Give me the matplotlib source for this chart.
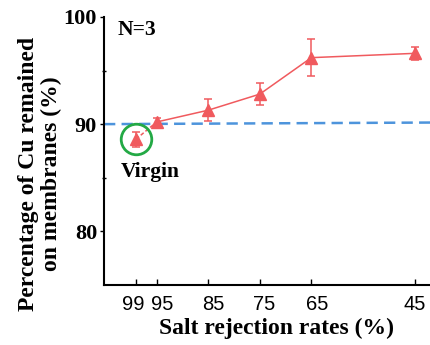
import matplotlib
matplotlib.use("Agg")
from matplotlib import pyplot as plt

# salt rejection rate of the membrane (%) and Cu kept on it (%)
rates = [99, 95, 85, 75, 65, 45]
cu_remained = [88.6, 90.2, 91.3, 92.8, 96.2, 96.6]
cu_err = [0.7, 0.4, 1.0, 1.05, 1.75, 0.6]
xticks = [99, 95, 85, 75, 65, 45]
yticks = [80, 90, 100]
baseline_x = [105.2, 41.0]
baseline_y = [90.0, 90.15]

# the x labels in the original sit a bit off their ticks (points)
label_shift = [-2, 4, 4, 3, 4.5, 0]

red = "#f05a5e"
blue = "#4d94dc"
green = "#23a945"
serif = "Liberation Serif"

fig = plt.figure(figsize=(4.3, 3.45), dpi=100)
ax = fig.add_axes([0.242, 0.174, 0.77, 0.777])

ax.plot(baseline_x, baseline_y, color=blue, lw=1.8, dashes=(4.5, 2.5), zorder=1)

# virgin -> first point dashed, rest solid
ax.plot(rates[:2], cu_remained[:2], color=red, lw=1.1, dashes=(2.5, 1.5), zorder=2)
ax.plot(rates[1:], cu_remained[1:], color=red, lw=1.1, zorder=2)
ax.errorbar(rates, cu_remained, yerr=cu_err, fmt="^", color=red, ms=9,
            elinewidth=1.1, capsize=3.2, capthick=1.1, zorder=3)

ax.plot([rates[0]], [cu_remained[0]], marker="o", ms=22, mfc="none",
        mec=green, mew=2, zorder=4)
ax.text(101.9, 85.5, "Virgin", family=serif, weight="bold", fontsize=15.5,
        va="center", ha="left")
ax.text(0.04, 0.95, "N=3", transform=ax.transAxes, family=serif,
        weight="bold", fontsize=15.5, va="center", ha="left")

ax.set_xlim(105.2, 41.0)
ax.set_ylim(75, 100)
ax.set_xticks(xticks)
ax.set_xticklabels([])
for v, dx in zip(xticks, label_shift):
    ax.annotate(str(v), xy=(v, 0), xycoords=("data", "axes fraction"),
                xytext=(dx, -7), textcoords="offset points", ha="center", va="top",
                family="Liberation Sans", fontsize=14.5)
ax.set_yticks(yticks)
ax.set_yticklabels([str(v) for v in yticks], family=serif, weight="bold", fontsize=16)
ax.set_yticks([85, 95], minor=True)
ax.tick_params(axis="x", direction="in", length=4, width=1)
ax.tick_params(axis="y", direction="out", length=3, width=1, pad=2)
ax.tick_params(axis="y", which="minor", direction="inout", length=3, width=1)

for side in ["top", "right"]:
    ax.spines[side].set_visible(False)
for side in ["left", "bottom"]:
    ax.spines[side].set_linewidth(1.5)

fig.text(0.093, 0.497, "Percentage of Cu remained\non membranes (%)", rotation=90,
         family=serif, weight="bold", fontsize=17, ha="center", va="center",
         multialignment="center", linespacing=1.1)
fig.text(0.643, 0.049, "Salt rejection rates (%)", family=serif, weight="bold",
         fontsize=17, ha="center", va="center")

fig.savefig("out.png", dpi=100)
